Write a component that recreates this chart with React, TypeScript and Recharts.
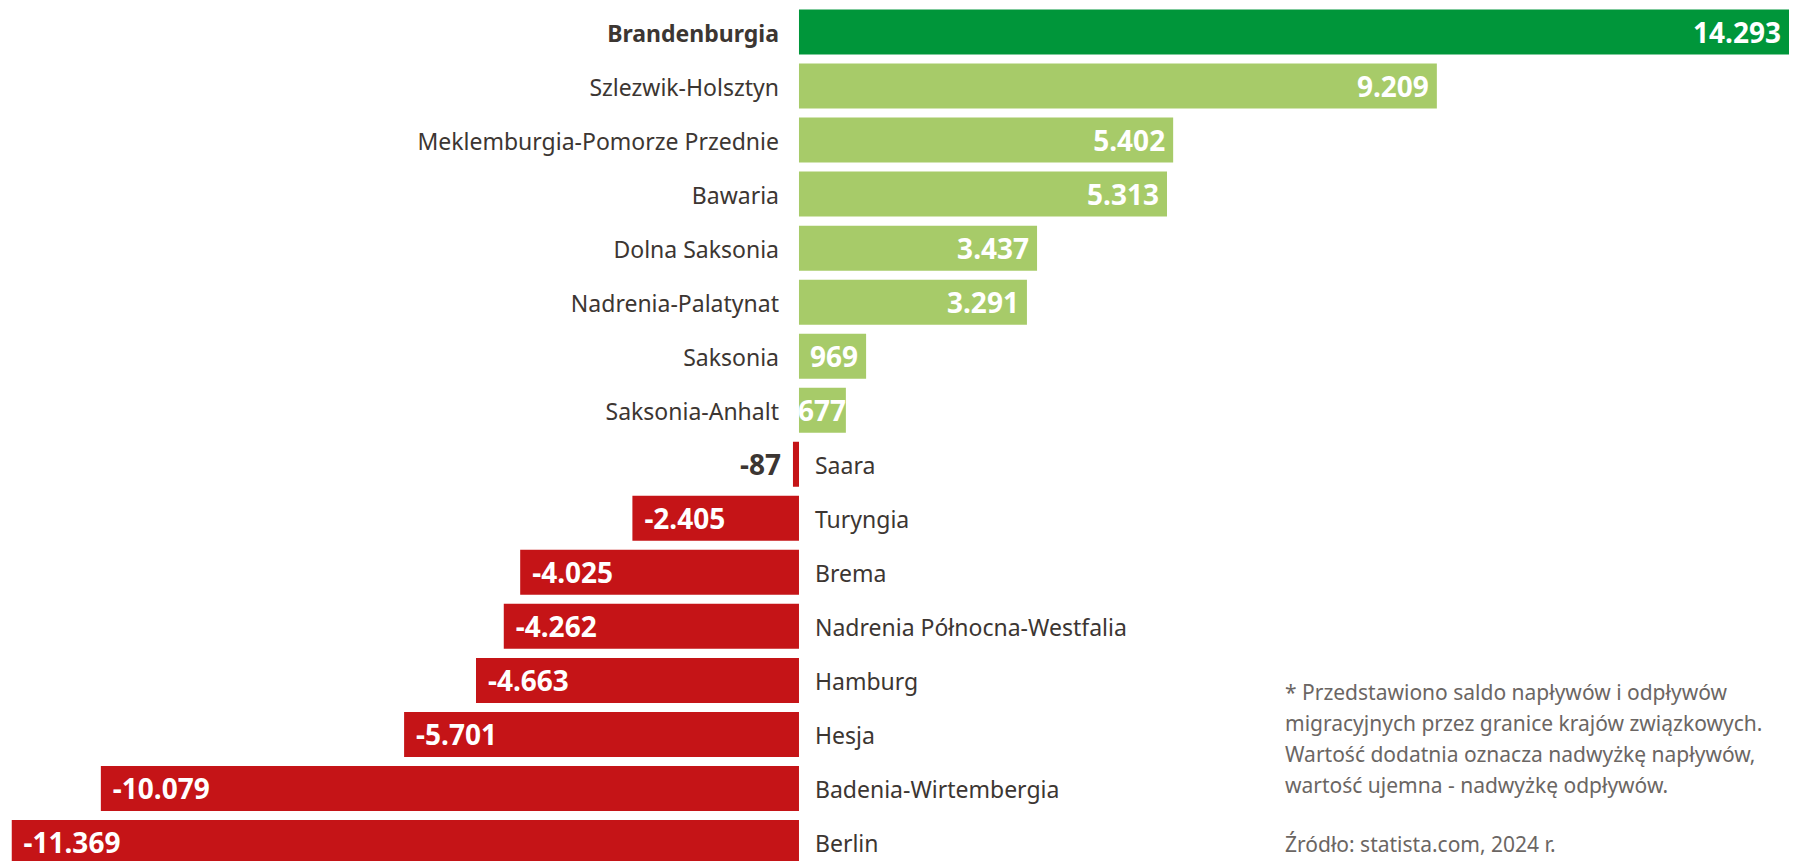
import React from 'react';
import { BarChart, Bar, XAxis, YAxis, Cell, LabelList } from 'recharts';

const states = [
  'Brandenburgia',
  'Szlezwik-Holsztyn',
  'Meklemburgia-Pomorze Przednie',
  'Bawaria',
  'Dolna Saksonia',
  'Nadrenia-Palatynat',
  'Saksonia',
  'Saksonia-Anhalt',
  'Saara',
  'Turyngia',
  'Brema',
  'Nadrenia Północna-Westfalia',
  'Hamburg',
  'Hesja',
  'Badenia-Wirtembergia',
  'Berlin',
];

const saldo = [14293, 9209, 5402, 5313, 3437, 3291, 969, 677, -87, -2405, -4025, -4262, -4663, -5701, -10079, -11369];

const notes = [
  '* Przedstawiono saldo napływów i odpływów',
  'migracyjnych przez granice krajów związkowych.',
  'Wartość dodatnia oznacza nadwyżkę napływów,',
  'wartość ujemna - nadwyżkę odpływów.',
];
const source = 'Źródło: statista.com, 2024 r.';

const data = states.map((name, i) => ({ name, value: saldo[i] }));

const DARK_GREEN = '#00963a';
const LIGHT_GREEN = '#a7cb69';
const RED = '#c51417';
const TEXT = '#3c3632';
const FONT = '"Noto Sans", sans-serif';
const VALUE_SIZE = 28;

const fmt = (v: number) => {
  const s = Math.abs(v).toString().replace(/\B(?=(\d{3})+(?!\d))/g, '.');
  return (v < 0 ? '-' : '') + s;
};

const barColor = (v: number, i: number) => (i === 0 ? DARK_GREEN : v >= 0 ? LIGHT_GREEN : RED);

const NameLabel = (props: any) => {
  const { x, y, width, height, index } = props;
  const v = saldo[index];
  const left = Math.min(x, x + width);
  const right = Math.max(x, x + width);
  const zero = v >= 0 ? left : right;
  const cy = y + height / 2;
  return (
    <text
      x={v >= 0 ? zero - 20 : zero + 16}
      y={cy}
      dy="0.42em"
      textAnchor={v >= 0 ? 'end' : 'start'}
      fill={TEXT}
      fontFamily={FONT}
      fontSize={23}
      fontWeight={index === 0 ? 700 : 400}
    >
      {states[index]}
    </text>
  );
};

const ValueLabel = (props: any) => {
  const { x, y, width, height, index } = props;
  const v = saldo[index];
  const left = Math.min(x, x + width);
  const right = Math.max(x, x + width);
  const w = right - left;
  const cy = y + height / 2;
  const label = fmt(v);
  // rough width so short bars keep the number inside
  const est = label.length * 0.56 * VALUE_SIZE;
  let tx = v >= 0 ? Math.max(right - 8, left + est) : left + 12;
  let anchor: 'start' | 'end' = v >= 0 ? 'end' : 'start';
  let fill = '#ffffff';
  if (v < 0 && w < 60) {
    tx = left - 12;
    anchor = 'end';
    fill = TEXT;
  }
  return (
    <text
      x={tx}
      y={cy}
      dy="0.38em"
      textAnchor={anchor}
      fill={fill}
      fontFamily={FONT}
      fontSize={VALUE_SIZE}
      fontWeight={700}
    >
      {label}
    </text>
  );
};

export default function App() {
  return (
    <div style={{ position: 'absolute', top: 0, left: 0, width: 1798, height: 861, overflow: 'hidden', background: '#fff' }}>
      <BarChart
        width={1798}
        height={869}
        data={data}
        layout="vertical"
        margin={{ top: 4.5, right: 9, bottom: 0, left: 11.5 }}
      >
        <XAxis type="number" domain={[-11369, 14293]} hide allowDataOverflow />
        <YAxis type="category" dataKey="name" hide />
        <Bar dataKey="value" barSize={45} isAnimationActive={false}>
          {data.map((d, i) => (
            <Cell key={d.name} fill={barColor(d.value, i)} />
          ))}
          <LabelList dataKey="name" content={NameLabel} />
          <LabelList dataKey="value" content={ValueLabel} />
        </Bar>
      </BarChart>
      <div
        style={{
          position: 'absolute',
          left: 1285,
          top: 677,
          fontFamily: FONT,
          fontSize: 21,
          lineHeight: '31px',
          color: '#6b6663',
          whiteSpace: 'nowrap',
        }}
      >
        {notes.map((n) => (
          <div key={n}>{n}</div>
        ))}
        <div style={{ marginTop: 28 }}>{source}</div>
      </div>
    </div>
  );
}
